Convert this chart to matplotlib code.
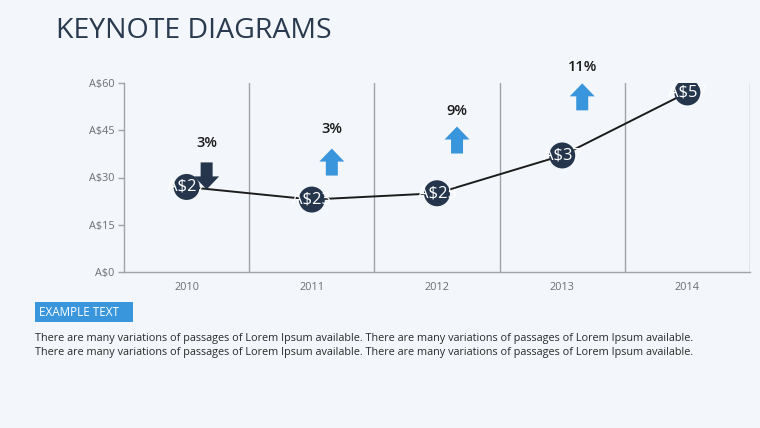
import matplotlib.pyplot as plt
import matplotlib.transforms as mtransforms
from matplotlib.patches import Polygon, Circle, Rectangle

# ===================== DATA =====================
years = ["2010", "2011", "2012", "2013", "2014"]
values = [27, 23, 25, 37, 57]
point_labels = ["A$27", "A$23", "A$25", "A$37", "A$57"]

yticks = [0, 15, 30, 45, 60]
ytick_labels = ["A$0", "A$15", "A$30", "A$45", "A$60"]

change_labels = ["3%", "3%", "9%", "11%"]
change_up = [False, True, True, True]
arrow_y = [30.5, 34.9, 41.9, 55.6]
label_y = [41.0, 45.4, 51.1, 65.1]

BG = "#f3f6fa"
NAVY = "#25364c"
BLUE = "#3a96dc"
GRAY = "#a0a4a8"

plt.rcParams["font.family"] = ["Open Sans", "DejaVu Sans"]

fig = plt.figure(figsize=(7.6, 4.28), dpi=100, facecolor=BG)
ax = fig.add_axes([124 / 760, 1 - 272 / 428, 626 / 760, 189 / 428])
ax.set_facecolor(BG)

x = list(range(len(years)))
ax.set_xlim(-0.5, len(years) - 0.5)
ax.set_ylim(0, 60)

# vertical separators between categories
for b in x:
    ax.axvline(b + 0.5, color=GRAY, lw=1.0, zorder=1)

for s in ["top", "right"]:
    ax.spines[s].set_visible(False)
for s in ["left", "bottom"]:
    ax.spines[s].set_color(GRAY)
    ax.spines[s].set_linewidth(1.0)

ax.set_xticks(x)
ax.set_xticklabels(years)
ax.set_yticks(yticks)
ax.set_yticklabels(ytick_labels)
ax.tick_params(axis="x", length=0, pad=7, labelsize=7.8, colors="#6b6f74")
ax.tick_params(axis="y", length=4, width=1, color=GRAY, pad=3, labelsize=7.8,
               labelcolor="#6b6f74")

# line
ax.plot(x, values, color="#1c1c1c", lw=1.4, zorder=3)


def px_trans(xd, yd):
    return fig.dpi_scale_trans + mtransforms.ScaledTranslation(xd, yd, ax.transData)


# circles with clipped labels
r = 13 / 100
for xi, v, lab in zip(x, values, point_labels):
    tr = px_trans(xi, v)
    circ = Circle((0, 0), r, transform=tr, facecolor=NAVY, edgecolor="none", zorder=4)
    ax.add_patch(circ)
    t = ax.text(xi, v, lab, color="white", fontsize=12, ha="center", va="center",
                zorder=5)
    t.set_clip_path(circ)

# arrows with percentage labels
sw, hw, sh, hh = 6 / 100, 12.5 / 100, 14 / 100, 13 / 100
tot = sh + hh
up_shape = [(-sw, -tot / 2), (sw, -tot / 2), (sw, -tot / 2 + sh), (hw, -tot / 2 + sh),
            (0, tot / 2), (-hw, -tot / 2 + sh), (-sw, -tot / 2 + sh)]
for i, (lab, up, ay, ly) in enumerate(zip(change_labels, change_up, arrow_y, label_y)):
    xa = x[i] + 0.16
    pts = up_shape if up else [(px, -py) for px, py in up_shape]
    poly = Polygon(pts, closed=True, transform=px_trans(xa, ay),
                   facecolor=BLUE if up else NAVY, edgecolor="none", zorder=6,
                   clip_on=False)
    ax.add_patch(poly)
    ax.text(xa, ly, lab, fontsize=10.5, fontweight="semibold", color="#1a1a1a",
            ha="center", va="center", clip_on=False)

# title
fig.text(56 / 760, 1 - 31 / 428, "KEYNOTE DIAGRAMS", fontsize=20.5, color="#2a3a4f",
         ha="left", va="center")

# example text box
fig.patches.append(Rectangle((35 / 760, 1 - 322 / 428), 98 / 760, 20 / 428,
                             transform=fig.transFigure, facecolor=BLUE,
                             edgecolor="none"))
fig.text(39 / 760, 1 - 312 / 428, "EXAMPLE TEXT", fontsize=8.5, color="white",
         ha="left", va="center")

body = "There are many variations of passages of Lorem Ipsum available. " \
       "There are many variations of passages of Lorem Ipsum available."
fig.text(35 / 760, 1 - 338 / 428, body, fontsize=7.83, color="#2b2b2b",
         ha="left", va="center")
fig.text(35 / 760, 1 - 352 / 428, body, fontsize=7.83, color="#2b2b2b",
         ha="left", va="center")

fig.savefig("out.png", dpi=100, facecolor=BG)
